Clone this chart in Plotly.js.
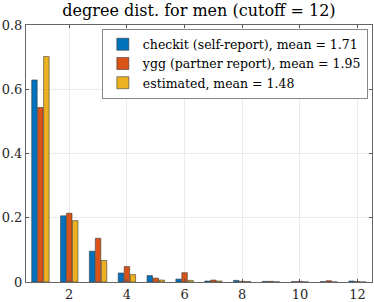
<!DOCTYPE html>
<html><head><meta charset="utf-8">
<script src="https://cdn.plot.ly/plotly-3.0.1.min.js"></script>
<style>html,body{margin:0;padding:0;background:#fff}#chart{width:374px;height:302px}</style>
</head><body><div id="chart"></div>
<script>
var degrees = [1,2,3,4,5,6,7,8,9,10,11,12];
var checkit = [0.629,0.206,0.096,0.028,0.020,0.009,0.003,0.005,0.002,0.001,0.001,0.003];
var ygg     = [0.543,0.214,0.136,0.048,0.012,0.029,0.006,0.002,0.002,0.002,0.004,0.001];
var estim   = [0.702,0.191,0.067,0.023,0.006,0.005,0.003,0.001,0.0005,0.0003,0.0002,0.0001];
var names = ['checkit (self-report), mean = 1.71','ygg (partner report), mean = 1.95','estimated, mean = 1.48'];
var colors = ['#0072BD','#D95319','#EDB120'];
var series = [checkit, ygg, estim];
var fam = 'DejaVu Serif';
var traces = series.map(function(s,i){return {type:'bar',x:degrees,y:s,name:names[i],
  marker:{color:colors[i],line:{color:'#3a3a3a',width:0.6}}};});
var layout = {
  width:374,height:302,
  margin:{l:26,r:2,t:24.5,b:20},
  paper_bgcolor:'#fff',plot_bgcolor:'#fff',
  barmode:'group',bargap:0.38,bargroupgap:0.08,
  font:{family:fam,size:13,color:'#262626'},
  title:{text:'degree dist. for men (cutoff = 12)',font:{family:fam,size:16,color:'#000'},x:0.532,xanchor:'center',y:0.966,yanchor:'middle'},
  xaxis:{range:[0.5,12.5],tickvals:[2,4,6,8,10,12],ticktext:['2','4','6','8','10','12'],
    showgrid:true,gridcolor:'#ebebeb',ticks:'inside',ticklen:3,tickcolor:'#555',
    showline:true,linecolor:'#666',linewidth:1,mirror:'ticks',zeroline:false,
    tickfont:{family:fam,size:13,color:'#262626'}},
  yaxis:{range:[0,0.8],tickvals:[0,0.2,0.4,0.6,0.8],ticktext:['0','0.2','0.4','0.6','0.8'],
    showgrid:true,gridcolor:'#ebebeb',ticks:'inside',ticklen:3,tickcolor:'#555',
    showline:true,linecolor:'#666',linewidth:1,mirror:'ticks',zeroline:false,
    tickfont:{family:fam,size:13,color:'#262626'}},
  legend:{x:0.988,y:0.986,xanchor:'right',yanchor:'top',bgcolor:'#fff',bordercolor:'#888',borderwidth:1,
    font:{family:fam,size:12.5,color:'#000'},tracegroupgap:0,itemwidth:30},
  showlegend:true
};
Plotly.newPlot('chart',traces,layout,{displayModeBar:false,staticPlot:true});
</script></body></html>
